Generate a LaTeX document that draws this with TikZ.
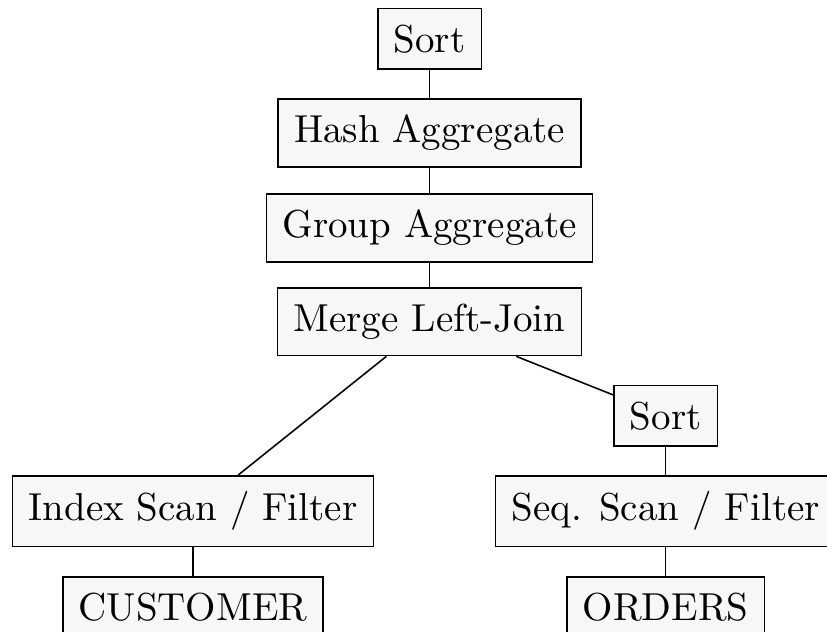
\documentclass[tikz,border=0pt]{standalone}
\usepackage{tikz}
\begin{document}
\begin{tikzpicture}[x=0.25654pt,y=-0.25654pt,
  op/.style={draw=black,fill=black!3,line width=0.4pt,inner sep=4.1pt},
  link/.style={draw=black,line width=0.4pt}]
\useasboundingbox (0,0) rectangle (827,631);
% plan operators
\node[op] (sortTop) at (429.5,38.7)  {Sort};
\node[op] (hashAgg) at (429.5,133)   {Hash Aggregate};
\node[op] (grpAgg)  at (429.5,227.8) {Group Aggregate};
\node[op] (mlj)     at (429.5,321.8) {Merge Left-Join};
\node[op] (sortOrd) at (665.7,415.8) {Sort};
\node[op] (idxScan) at (193,511.2)   {Index Scan / Filter};
\node[op] (seqScan) at (665.7,511.2) {Seq. Scan / Filter};
\node[op] (cust)    at (193,607)     {CUSTOMER};
\node[op] (ord)     at (665.7,607)   {ORDERS};
% tree edges
\draw[link] (sortTop) -- (hashAgg);
\draw[link] (hashAgg) -- (grpAgg);
\draw[link] (grpAgg)  -- (mlj);
\draw[link] (mlj)     -- (idxScan);
\draw[link] (mlj)     -- (sortOrd);
\draw[link] (sortOrd) -- (seqScan);
\draw[link] (idxScan) -- (cust);
\draw[link] (seqScan) -- (ord);
\end{tikzpicture}
\end{document}
